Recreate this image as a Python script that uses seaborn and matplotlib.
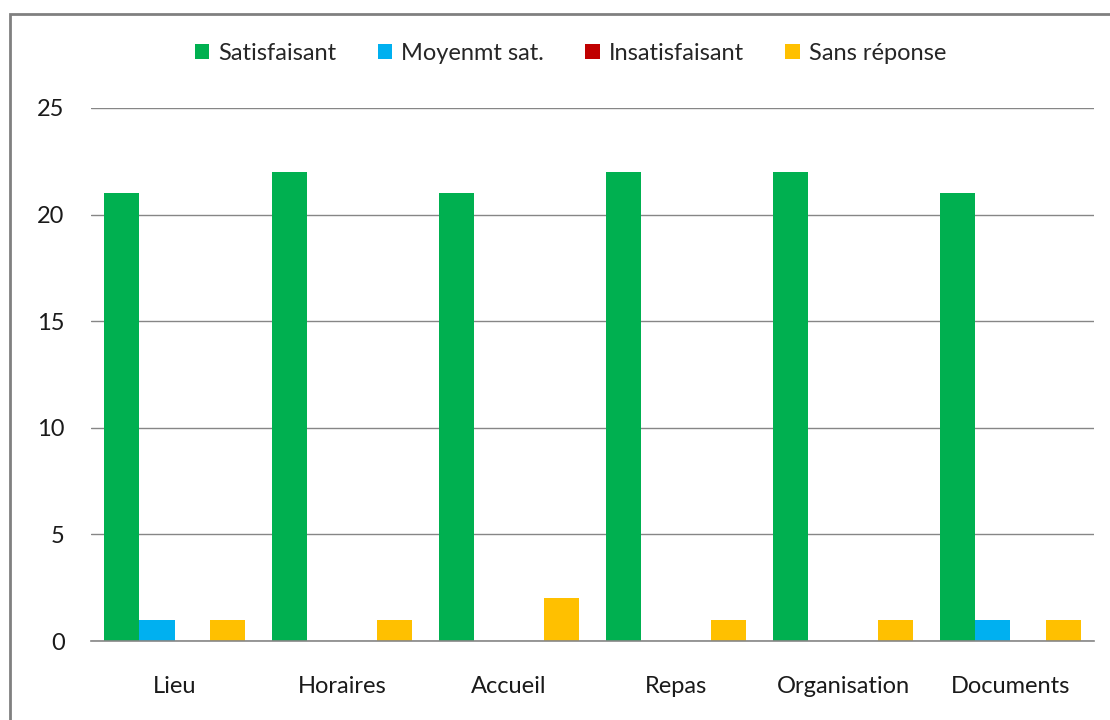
import matplotlib
matplotlib.use("Agg")
import matplotlib.pyplot as plt
import seaborn as sns
import pandas as pd
from matplotlib.patches import Rectangle

categories = ["Lieu", "Horaires", "Accueil", "Repas", "Organisation", "Documents"]
series = ["Satisfaisant", "Moyenmt sat.", "Insatisfaisant", "Sans réponse"]
satisfaisant = [21, 22, 21, 22, 22, 21]
moyen = [1, 0, 0, 0, 0, 1]
insatisfaisant = [0, 0, 0, 0, 0, 0]
sans_reponse = [1, 1, 2, 1, 1, 1]
colors = ["#00B050", "#00B0F0", "#C00000", "#FFC000"]

rows = []
for s, vals in zip(series, [satisfaisant, moyen, insatisfaisant, sans_reponse]):
    for c, v in zip(categories, vals):
        rows.append({"cat": c, "serie": s, "val": v})
df = pd.DataFrame(rows)

sns.set_theme(style="white")
plt.rcParams['font.family'] = ['Lato', 'DejaVu Sans']

fig = plt.figure(figsize=(11.1, 7.2), dpi=100)
ax = fig.add_axes([0.082, 0.1097, 0.9036, 0.7403])

sns.barplot(data=df, x="cat", y="val", hue="serie", palette=colors,
            width=0.84, saturation=1, ax=ax, dodge=True, legend=True,
            linewidth=0, edgecolor="none")

ax.set_ylim(0, 25)
ax.set_yticks([0, 5, 10, 15, 20, 25])
ax.set_xlim(-0.5, len(categories) - 0.5)
ax.yaxis.grid(True, color="#868686", linewidth=1)
ax.set_axisbelow(True)
for side in ["top", "right", "left"]:
    ax.spines[side].set_visible(False)
ax.spines["bottom"].set_color("#868686")
ax.spines["bottom"].set_linewidth(1.2)
ax.tick_params(axis="both", length=0, labelsize=17, colors="#1a1a1a")
ax.tick_params(axis="x", pad=25)
ax.tick_params(axis="y", pad=19)
ax.set_xlabel("")
ax.set_ylabel("")

handles, labels = ax.get_legend_handles_labels()
ax.legend(handles, labels, loc="center", bbox_to_anchor=(0.478, 1.103), ncol=4,
          frameon=False, fontsize=17, handlelength=0.6, handleheight=0.6,
          handletextpad=0.4, columnspacing=1.75)

fig.add_artist(Rectangle((10 / 1110, -0.1), 1.2, 1 - 14 / 720 + 0.1,
                         transform=fig.transFigure, fill=False,
                         edgecolor="#808080", linewidth=2))

fig.savefig("out.png", dpi=100)
